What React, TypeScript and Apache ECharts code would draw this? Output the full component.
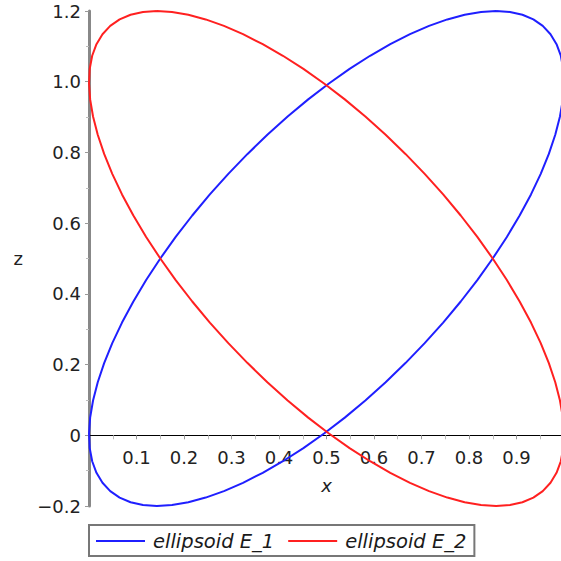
import React, { useEffect, useRef } from "react";
import * as echarts from "echarts";

const e1X = [0.8571, 0.8863, 0.9125, 0.9355, 0.9553, 0.9716, 0.9843, 0.9933, 0.9985, 0.9999, 0.9976, 0.9915, 0.9816, 0.9681, 0.951, 0.9305, 0.9066, 0.8797, 0.8499, 0.8175, 0.7826, 0.7456, 0.7067, 0.6662, 0.6245, 0.5818, 0.5385, 0.4949, 0.4514, 0.4082, 0.3657, 0.3242, 0.2841, 0.2456, 0.2091, 0.1747, 0.1429, 0.1137, 0.0875, 0.0645, 0.0447, 0.0284, 0.0157, 0.0067, 0.0015, 0.0001, 0.0024, 0.0085, 0.0184, 0.0319, 0.049, 0.0695, 0.0934, 0.1203, 0.1501, 0.1825, 0.2174, 0.2544, 0.2933, 0.3338, 0.3755, 0.4182, 0.4615, 0.5051, 0.5486, 0.5918, 0.6343, 0.6758, 0.7159, 0.7544, 0.7909, 0.8253];
const e1Z = [1.2, 1.1973, 1.1894, 1.1762, 1.1578, 1.1344, 1.1062, 1.0734, 1.0362, 0.995, 0.95, 0.9015, 0.85, 0.7958, 0.7394, 0.6812, 0.6216, 0.561, 0.5, 0.439, 0.3784, 0.3188, 0.2606, 0.2042, 0.15, 0.0985, 0.05, 0.005, -0.0362, -0.0734, -0.1062, -0.1344, -0.1578, -0.1762, -0.1894, -0.1973, -0.2, -0.1973, -0.1894, -0.1762, -0.1578, -0.1344, -0.1062, -0.0734, -0.0362, 0.005, 0.05, 0.0985, 0.15, 0.2042, 0.2606, 0.3188, 0.3784, 0.439, 0.5, 0.561, 0.6216, 0.6812, 0.7394, 0.7958, 0.85, 0.9015, 0.95, 0.995, 1.0362, 1.0734, 1.1062, 1.1344, 1.1578, 1.1762, 1.1894, 1.1973];
const e2X = [0.1429, 0.1137, 0.0875, 0.0645, 0.0447, 0.0284, 0.0157, 0.0067, 0.0015, 0.0001, 0.0024, 0.0085, 0.0184, 0.0319, 0.049, 0.0695, 0.0934, 0.1203, 0.1501, 0.1825, 0.2174, 0.2544, 0.2933, 0.3338, 0.3755, 0.4182, 0.4615, 0.5051, 0.5486, 0.5918, 0.6343, 0.6758, 0.7159, 0.7544, 0.7909, 0.8253, 0.8571, 0.8863, 0.9125, 0.9355, 0.9553, 0.9716, 0.9843, 0.9933, 0.9985, 0.9999, 0.9976, 0.9915, 0.9816, 0.9681, 0.951, 0.9305, 0.9066, 0.8797, 0.8499, 0.8175, 0.7826, 0.7456, 0.7067, 0.6662, 0.6245, 0.5818, 0.5385, 0.4949, 0.4514, 0.4082, 0.3657, 0.3242, 0.2841, 0.2456, 0.2091, 0.1747];
const e2Z = [1.2, 1.1973, 1.1894, 1.1762, 1.1578, 1.1344, 1.1062, 1.0734, 1.0362, 0.995, 0.95, 0.9015, 0.85, 0.7958, 0.7394, 0.6812, 0.6216, 0.561, 0.5, 0.439, 0.3784, 0.3188, 0.2606, 0.2042, 0.15, 0.0985, 0.05, 0.005, -0.0362, -0.0734, -0.1062, -0.1344, -0.1578, -0.1762, -0.1894, -0.1973, -0.2, -0.1973, -0.1894, -0.1762, -0.1578, -0.1344, -0.1062, -0.0734, -0.0362, 0.005, 0.05, 0.0985, 0.15, 0.2042, 0.2606, 0.3188, 0.3784, 0.439, 0.5, 0.561, 0.6216, 0.6812, 0.7394, 0.7958, 0.85, 0.9015, 0.95, 0.995, 1.0362, 1.0734, 1.1062, 1.1344, 1.1578, 1.1762, 1.1894, 1.1973];
const seriesNames = ["ellipsoid E_1", "ellipsoid E_2"];
const seriesColors = ["#1f1fff", "#ff2020"];
const X_MIN = 0;
const X_MAX = 1;
const Z_MIN = -0.2;
const Z_MAX = 1.2;

const closedLoop = (xs: number[], zs: number[]) => {
  const pts = xs.map((x, i) => [x, zs[i]]);
  pts.push([xs[0], zs[0]]);
  return pts;
};

const FONT = "DejaVu Sans";
const LEFT = 89;
const TOP = 11;
const RIGHT = -3;
const BOTTOM = 55;

export default function App() {
  const ref = useRef<HTMLDivElement>(null);
  useEffect(() => {
    if (!ref.current) return;
    const chart = echarts.init(ref.current, null, { renderer: "svg" });
    const plotH = 561 - TOP - BOTTOM;
    const zeroFromBottom = BOTTOM + (plotH * (0 - Z_MIN)) / (Z_MAX - Z_MIN);
    chart.setOption({
      animation: false,
      backgroundColor: "#ffffff",
      grid: [
        { left: LEFT, top: TOP, right: RIGHT, bottom: BOTTOM, containLabel: false, outerBoundsMode: "none" },
        { left: LEFT, top: TOP, right: RIGHT, bottom: zeroFromBottom, containLabel: false, outerBoundsMode: "none" },
      ],
      xAxis: [
        {
          type: "value",
          gridIndex: 0,
          min: X_MIN,
          max: X_MAX,
          show: false,
        },
        {
          type: "value",
          gridIndex: 1,
          min: X_MIN,
          max: X_MAX,
          interval: 0.1,
          position: "bottom",
          name: "x",
          nameLocation: "middle",
          nameGap: 41,
          nameTextStyle: { fontFamily: FONT, fontSize: 18, fontStyle: "italic", color: "#222" },
          axisLine: { show: true, onZero: false, lineStyle: { color: "#000", width: 1 } },
          axisTick: { show: true, length: 4, lineStyle: { color: "#999" } },
          minorTick: { show: true, splitNumber: 2, length: 4, lineStyle: { color: "#bbb" } },
          splitLine: { show: false },
          axisLabel: {
            margin: 13,
            fontFamily: FONT,
            fontSize: 18,
            color: "#222",
            formatter: (v: number) => (v <= 0.001 || v >= 0.999 ? "" : v.toFixed(1)),
          },
        },
      ],
      yAxis: [
        {
          type: "value",
          gridIndex: 0,
          min: Z_MIN,
          max: Z_MAX,
          interval: 0.2,
          name: "z",
          nameLocation: "middle",
          nameRotate: 0,
          nameGap: 66,
          nameTextStyle: { fontFamily: FONT, fontSize: 18, color: "#222" },
          axisLine: { show: true, onZero: false, lineStyle: { color: "#888", width: 3 } },
          axisTick: { show: true, length: 4, lineStyle: { color: "#999" } },
          minorTick: { show: true, splitNumber: 2, length: 3, lineStyle: { color: "#bbb" } },
          splitLine: { show: false },
          axisLabel: {
            margin: 8,
            fontFamily: FONT,
            fontSize: 18,
            color: "#222",
            formatter: (v: number) => {
              if (Math.abs(v) < 1e-9) return "0";
              const s = Math.abs(v).toFixed(1);
              return v < 0 ? "\u2212" + s : s;
            },
          },
        },
        {
          type: "value",
          gridIndex: 1,
          min: 0,
          max: Z_MAX,
          show: false,
        },
      ],
      legend: {
        show: true,
        left: 89,
        top: 525,
        orient: "horizontal",
        borderColor: "#777",
        borderWidth: 2,
        padding: [6, 8, 5, 7],
        itemGap: 14,
        itemWidth: 49,
        itemHeight: 20,
        textStyle: {
          fontFamily: FONT,
          fontSize: 19.5,
          fontStyle: "italic",
          color: "#1a1a1a",
          padding: [0, 0, 0, 3],
        },
        data: seriesNames.map((n) => ({ name: n, icon: "path://M0,9 L49,9 L49,11 L0,11 Z" })),
      },
      series: seriesNames.map((n, i) => ({
        type: "line",
        name: n,
        xAxisIndex: 0,
        yAxisIndex: 0,
        data: i === 0 ? closedLoop(e1X, e1Z) : closedLoop(e2X, e2Z),
        smooth: false,
        showSymbol: false,
        symbol: "none",
        clip: false,
        lineStyle: { color: seriesColors[i], width: 2 },
        itemStyle: { color: seriesColors[i] },
      })),
    });
    return () => chart.dispose();
  }, []);
  return (
    <div
      ref={ref}
      style={{ position: "fixed", left: 0, top: 0, width: 561, height: 561 }}
    />
  );
}
